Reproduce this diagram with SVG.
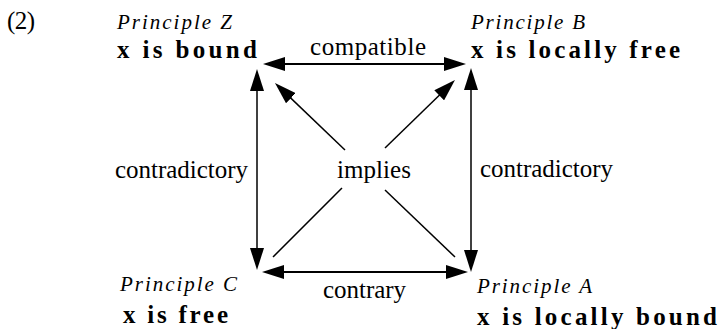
<svg xmlns="http://www.w3.org/2000/svg" width="718" height="329" viewBox="0 0 718 329">
<style>
text{font-family:"Liberation Serif",serif;fill:#000}
.n{font-size:25px}
.it{font-size:21px;font-style:italic}
.b{font-size:25px;font-weight:bold}
.c{fill:none;stroke:#000}
.h{stroke-width:2}
.v{stroke-width:1.5}
.d{stroke-width:1.5}
</style>
<defs>
<marker id="ah" viewBox="0 0 22 14" refX="12" refY="7" markerWidth="22" markerHeight="14" markerUnits="userSpaceOnUse" orient="auto-start-reverse">
<path d="M0,0 L22,7 L0,14 Z" fill="#000"/>
</marker>
</defs>
<text class="n" x="7" y="29" textLength="28" lengthAdjust="spacing">(2)</text>
<g id="nodeZ">
<text class="it" x="117" y="29" textLength="115" lengthAdjust="spacing">Principle Z</text>
<text class="b" x="117" y="58" textLength="140" lengthAdjust="spacing">x is bound</text>
</g>
<g id="nodeB">
<text class="it" x="471" y="29" textLength="114" lengthAdjust="spacing">Principle B</text>
<text class="b" x="471" y="58" textLength="209" lengthAdjust="spacing">x is locally free</text>
</g>
<g id="nodeC">
<text class="it" x="120" y="291" textLength="117" lengthAdjust="spacing">Principle C</text>
<text class="b" x="123" y="323" textLength="105" lengthAdjust="spacing">x is free</text>
</g>
<g id="nodeA">
<text class="it" x="477" y="293" textLength="115" lengthAdjust="spacing">Principle A</text>
<text class="b" x="477" y="325" textLength="240" lengthAdjust="spacing">x is locally bound</text>
</g>
<g id="connectors">
<line class="c h" x1="273" y1="64" x2="456" y2="64" marker-start="url(#ah)" marker-end="url(#ah)"/>
<line class="c h" x1="272" y1="272" x2="458" y2="272" marker-start="url(#ah)" marker-end="url(#ah)"/>
<line class="c v" x1="257" y1="79" x2="257" y2="260" marker-start="url(#ah)" marker-end="url(#ah)"/>
<line class="c v" x1="471" y1="78" x2="471" y2="262" marker-start="url(#ah)" marker-end="url(#ah)"/>
<line class="c d" x1="345" y1="150" x2="282.2" y2="89.9" marker-end="url(#ah)"/>
<line class="c d" x1="385" y1="148" x2="447.8" y2="87" marker-end="url(#ah)"/>
<line class="c d" x1="342" y1="188" x2="273" y2="257"/>
<line class="c d" x1="385" y1="190" x2="455" y2="257"/>
<text class="n" x="310" y="55" textLength="116" lengthAdjust="spacing">compatible</text>
<text class="n" x="115" y="178" textLength="133" lengthAdjust="spacing">contradictory</text>
<text class="n" x="337" y="178" textLength="74" lengthAdjust="spacing">implies</text>
<text class="n" x="480" y="177" textLength="133" lengthAdjust="spacing">contradictory</text>
<text class="n" x="323" y="298" textLength="83" lengthAdjust="spacing">contrary</text>
</g>
</svg>
